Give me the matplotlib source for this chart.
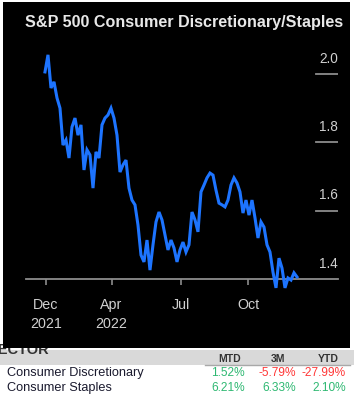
import matplotlib
matplotlib.use("Agg")
import matplotlib.pyplot as plt
from matplotlib.patches import Rectangle
from matplotlib.lines import Line2D
import numpy as np

# ---- data ----
title = "S&P 500 Consumer Discretionary/Staples"
ratio = [2.006, 2.056, 1.959, 1.977, 1.930, 1.900, 1.792, 1.807, 1.754, 1.845,
         1.871, 1.821, 1.851, 1.719, 1.778, 1.763, 1.666, 1.772, 1.754, 1.851,
         1.871, 1.880, 1.900, 1.871, 1.821, 1.713, 1.734, 1.748, 1.666, 1.631,
         1.617, 1.558, 1.470, 1.450, 1.514, 1.426, 1.500, 1.567, 1.596, 1.573,
         1.529, 1.485, 1.514, 1.491, 1.450, 1.485, 1.508, 1.479, 1.500, 1.596,
         1.573, 1.538, 1.655, 1.675, 1.696, 1.710, 1.704, 1.660, 1.622, 1.617,
         1.611, 1.631, 1.675, 1.696, 1.681, 1.655, 1.593, 1.631, 1.587, 1.631,
         1.579, 1.520, 1.567, 1.552, 1.500, 1.479, 1.420, 1.374, 1.461, 1.432,
         1.374, 1.403, 1.397, 1.418, 1.406]
x_tick_labels = ["Dec\n2021", "Apr\n2022", "Jul", "Oct"]
y_ticks = [1.4, 1.6, 1.8, 2.0]
y_tick_labels = ["1.4", "1.6", "1.8", "2.0"]

table_header = ["MTD", "3M", "YTD"]
table_rows = ["Consumer Discretionary", "Consumer Staples"]
table_values = [[1.52, -5.79, -27.99],
                [6.21, 6.33, 2.10]]

# ---- layout helpers ----
W, H = 354, 398
fig = plt.figure(figsize=(W / 100, H / 100), dpi=100)
fig.patch.set_facecolor("white")

def fx(px):
    return px / W

def fy(py):
    return 1 - py / H

# black panel
fig.patches.append(Rectangle((fx(3), fy(348)), fx(350) - fx(3), fy(2) - fy(348),
                             transform=fig.transFigure, facecolor="black",
                             edgecolor="none", zorder=5))

# axes
ax_left, ax_right, ax_bottom, ax_top = 26, 338, 279, 45
ax = fig.add_axes([fx(ax_left), fy(ax_bottom), fx(ax_right) - fx(ax_left),
                   fy(ax_top) - fy(ax_bottom)], zorder=10)
ax.set_facecolor("none")
x = np.arange(len(ratio))
ax.plot(x, ratio, color="#1d74ff", lw=2.2, clip_on=False, solid_joinstyle="miter", zorder=3)
ax.set_xlim(-6.33, 97.67)
ax.set_ylim(1.4, 2.0848)

for s in ["top", "right", "left"]:
    ax.spines[s].set_visible(False)
ax.spines["bottom"].set_color("#8c8c8c")
ax.spines["bottom"].set_linewidth(1.3)
ax.set_yticks([])

ax.set_xticks([0.33, 22.2, 45.3, 67.8])
ax.set_xticklabels(x_tick_labels, linespacing=1.45)
ax.tick_params(axis="x", colors="#8c8c8c", length=4, width=1.2, pad=9.5,
               labelcolor="#d0d0d0", labelsize=10.3)
for lab in ax.get_xticklabels():
    lab.set_fontfamily("Liberation Sans")

# right-side y labels with short gridlines
for v, lab in zip(y_ticks, y_tick_labels):
    if v != 1.4:
        ax.axhline(v, xmin=(316 - ax_left) / (ax_right - ax_left), xmax=1.0,
                   color="#8c8c8c", lw=1.3)
    ax.annotate(lab, xy=(1.0, v), xycoords=("axes fraction", "data"),
                xytext=(0, 6), textcoords="offset points", ha="right", va="bottom",
                color="#d0d0d0", fontsize=9.8, family="Liberation Sans")

# title
fig.text(fx(25), fy(22), title, color="#e8e8e8", fontsize=11.6, fontweight="bold",
         family="Liberation Sans", ha="left", va="center", zorder=6)

# ---- table ----
fig.patches.append(Rectangle((0, fy(365)), 1, fy(350) - fy(365), transform=fig.transFigure,
                             facecolor="#d9d9d9", edgecolor="none", zorder=1))
fig.lines.append(Line2D([fx(205), fx(350)], [fy(364.5), fy(364.5)], transform=fig.transFigure,
                        color="#a8a8a8", lw=1.0, zorder=2))
fig.text(fx(-11), fy(350.5), "SECTOR", color="#333333", fontsize=10.5, fontweight="bold",
         family="Liberation Sans", ha="left", va="center", zorder=3)

col_centers = [230, 278, 328]
col_rights = [245, 296, 346]
for cx, h in zip(col_centers, table_header):
    fig.text(fx(cx), fy(358.5), h, color="#333333", fontsize=7.5, fontweight="bold",
             family="Liberation Sans", ha="center", va="center", zorder=3)

row_y = [373, 388]
for ry, name, vals in zip(row_y, table_rows, table_values):
    fig.text(fx(7), fy(ry), name, color="#1a1a2e", fontsize=9.2,
             family="Liberation Sans", ha="left", va="center", zorder=3)
    for cr, v in zip(col_rights, vals):
        col = "#2eb872" if v >= 0 else "#ff3838"
        fig.text(fx(cr), fy(ry), f"{v:.2f}%", color=col, fontsize=8.6,
                 family="Liberation Sans", ha="right", va="center", zorder=3)

fig.savefig("out.png", dpi=100, facecolor="white")
